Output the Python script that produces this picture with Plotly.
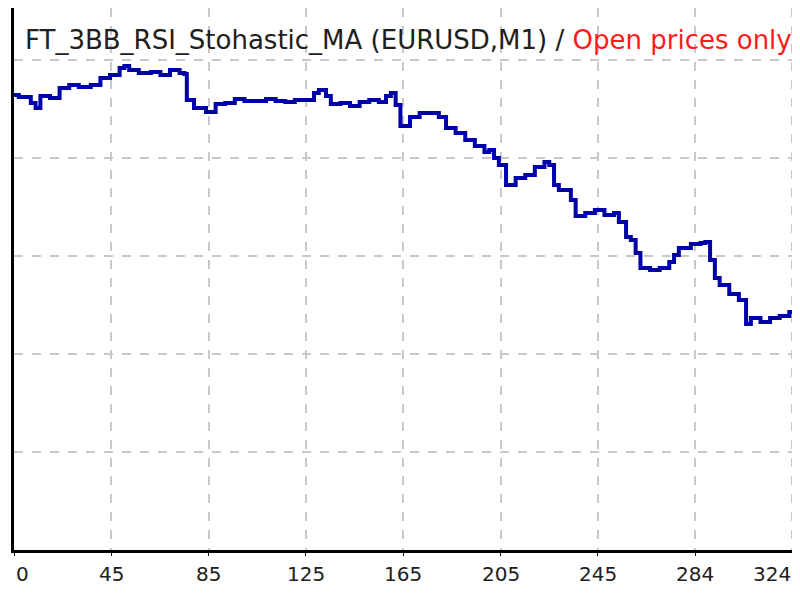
import plotly.graph_objects as go

# trade number vs balance
trades = [0, 2, 7, 9, 11, 15, 19, 23, 27, 32, 36, 40, 44, 46, 48, 52, 57, 61, 65, 69, 71, 72, 75, 80,
          84, 88, 92, 96, 100, 105, 109, 113, 117, 121, 125, 127, 130, 132, 136, 140, 144, 148, 152,
          155, 157, 159, 161, 165, 169, 173, 177, 180, 184, 188, 192, 196, 198, 200, 202, 205, 209,
          213, 217, 221, 223, 225, 227, 232, 234, 238, 242, 246, 250, 252, 255, 257, 259, 261, 265,
          269, 273, 275, 277, 282, 286, 288, 290, 292, 294, 298, 302, 305, 307, 311, 315, 319, 323, 331]
balance = [4550, 4530, 4470, 4420, 4540, 4520, 4620, 4650, 4630, 4650, 4720, 4750, 4820, 4840, 4800,
           4770, 4780, 4750, 4800, 4770, 4760, 4500, 4420, 4380, 4460, 4470, 4510, 4490, 4490, 4510,
           4490, 4480, 4500, 4500, 4570, 4600, 4540, 4460, 4470, 4440, 4480, 4500, 4480, 4540, 4570,
           4450, 4240, 4330, 4370, 4370, 4330, 4220, 4170, 4100, 4040, 3980, 4000, 3920, 3850, 3650,
           3720, 3750, 3830, 3880, 3850, 3650, 3600, 3500, 3340, 3370, 3400, 3350, 3370, 3280, 3130,
           3100, 2970, 2820, 2800, 2820, 2880, 2950, 3020, 3060, 3070, 3080, 2900, 2720, 2650, 2560,
           2500, 2260, 2320, 2280, 2320, 2340, 2380, 2400]

# the tester spaces its grid evenly; labels are trade counts at those grid lines
grid_pos = [0, 40.5, 81.1, 121.6, 162.2, 202.7, 243.2, 283.8, 324.3]
tick_labels = ["0", "45", "85", "125", "165", "205", "245", "284", "324"]

fig = go.Figure()
fig.add_trace(go.Scatter(
    x=trades, y=balance, mode="lines",
    line=dict(color="#0000a8", width=4, shape="hv"),
    hoverinfo="skip", showlegend=False
))

fig.add_annotation(
    text="FT_3BB_RSI_Stohastic_MA (EURUSD,M1) / <span style='color:#ff1a1a'>Open prices only</span>",
    xref="paper", yref="paper", x=0.0, xshift=9, y=(542 - 32) / 542,
    xanchor="left", yanchor="middle", showarrow=False,
    font=dict(family="DejaVu Sans", size=26, color="#202020")
)

for pos, lab in zip(grid_pos, tick_labels):
    shift = 8 if lab == "0" else (-20 if lab == "324" else 0)
    fig.add_annotation(
        text=lab, x=pos, xref="x", y=0, yref="paper", yanchor="top", yshift=-10,
        xshift=shift, showarrow=False,
        font=dict(family="DejaVu Sans", size=20, color="#202020")
    )

fig.update_layout(
    width=800, height=600,
    margin=dict(l=6, r=0, t=0, b=58),
    plot_bgcolor="white", paper_bgcolor="white",
    font=dict(family="DejaVu Sans", size=20, color="#202020"),
)
fig.update_xaxes(
    range=[0, 330.8], tickvals=grid_pos, showticklabels=False,
    showgrid=True, gridcolor="#c8c8c8", griddash="dash", gridwidth=2,
    showline=True, linecolor="black", linewidth=3, zeroline=False,
    ticks="outside", ticklen=3, tickcolor="black"
)
fig.update_yaxes(
    range=[0, 5420], dtick=980, tick0=0, showticklabels=False,
    showgrid=True, gridcolor="#c8c8c8", griddash="dash", gridwidth=2,
    showline=True, linecolor="black", linewidth=3, zeroline=False
)

fig.write_html("out.html")
